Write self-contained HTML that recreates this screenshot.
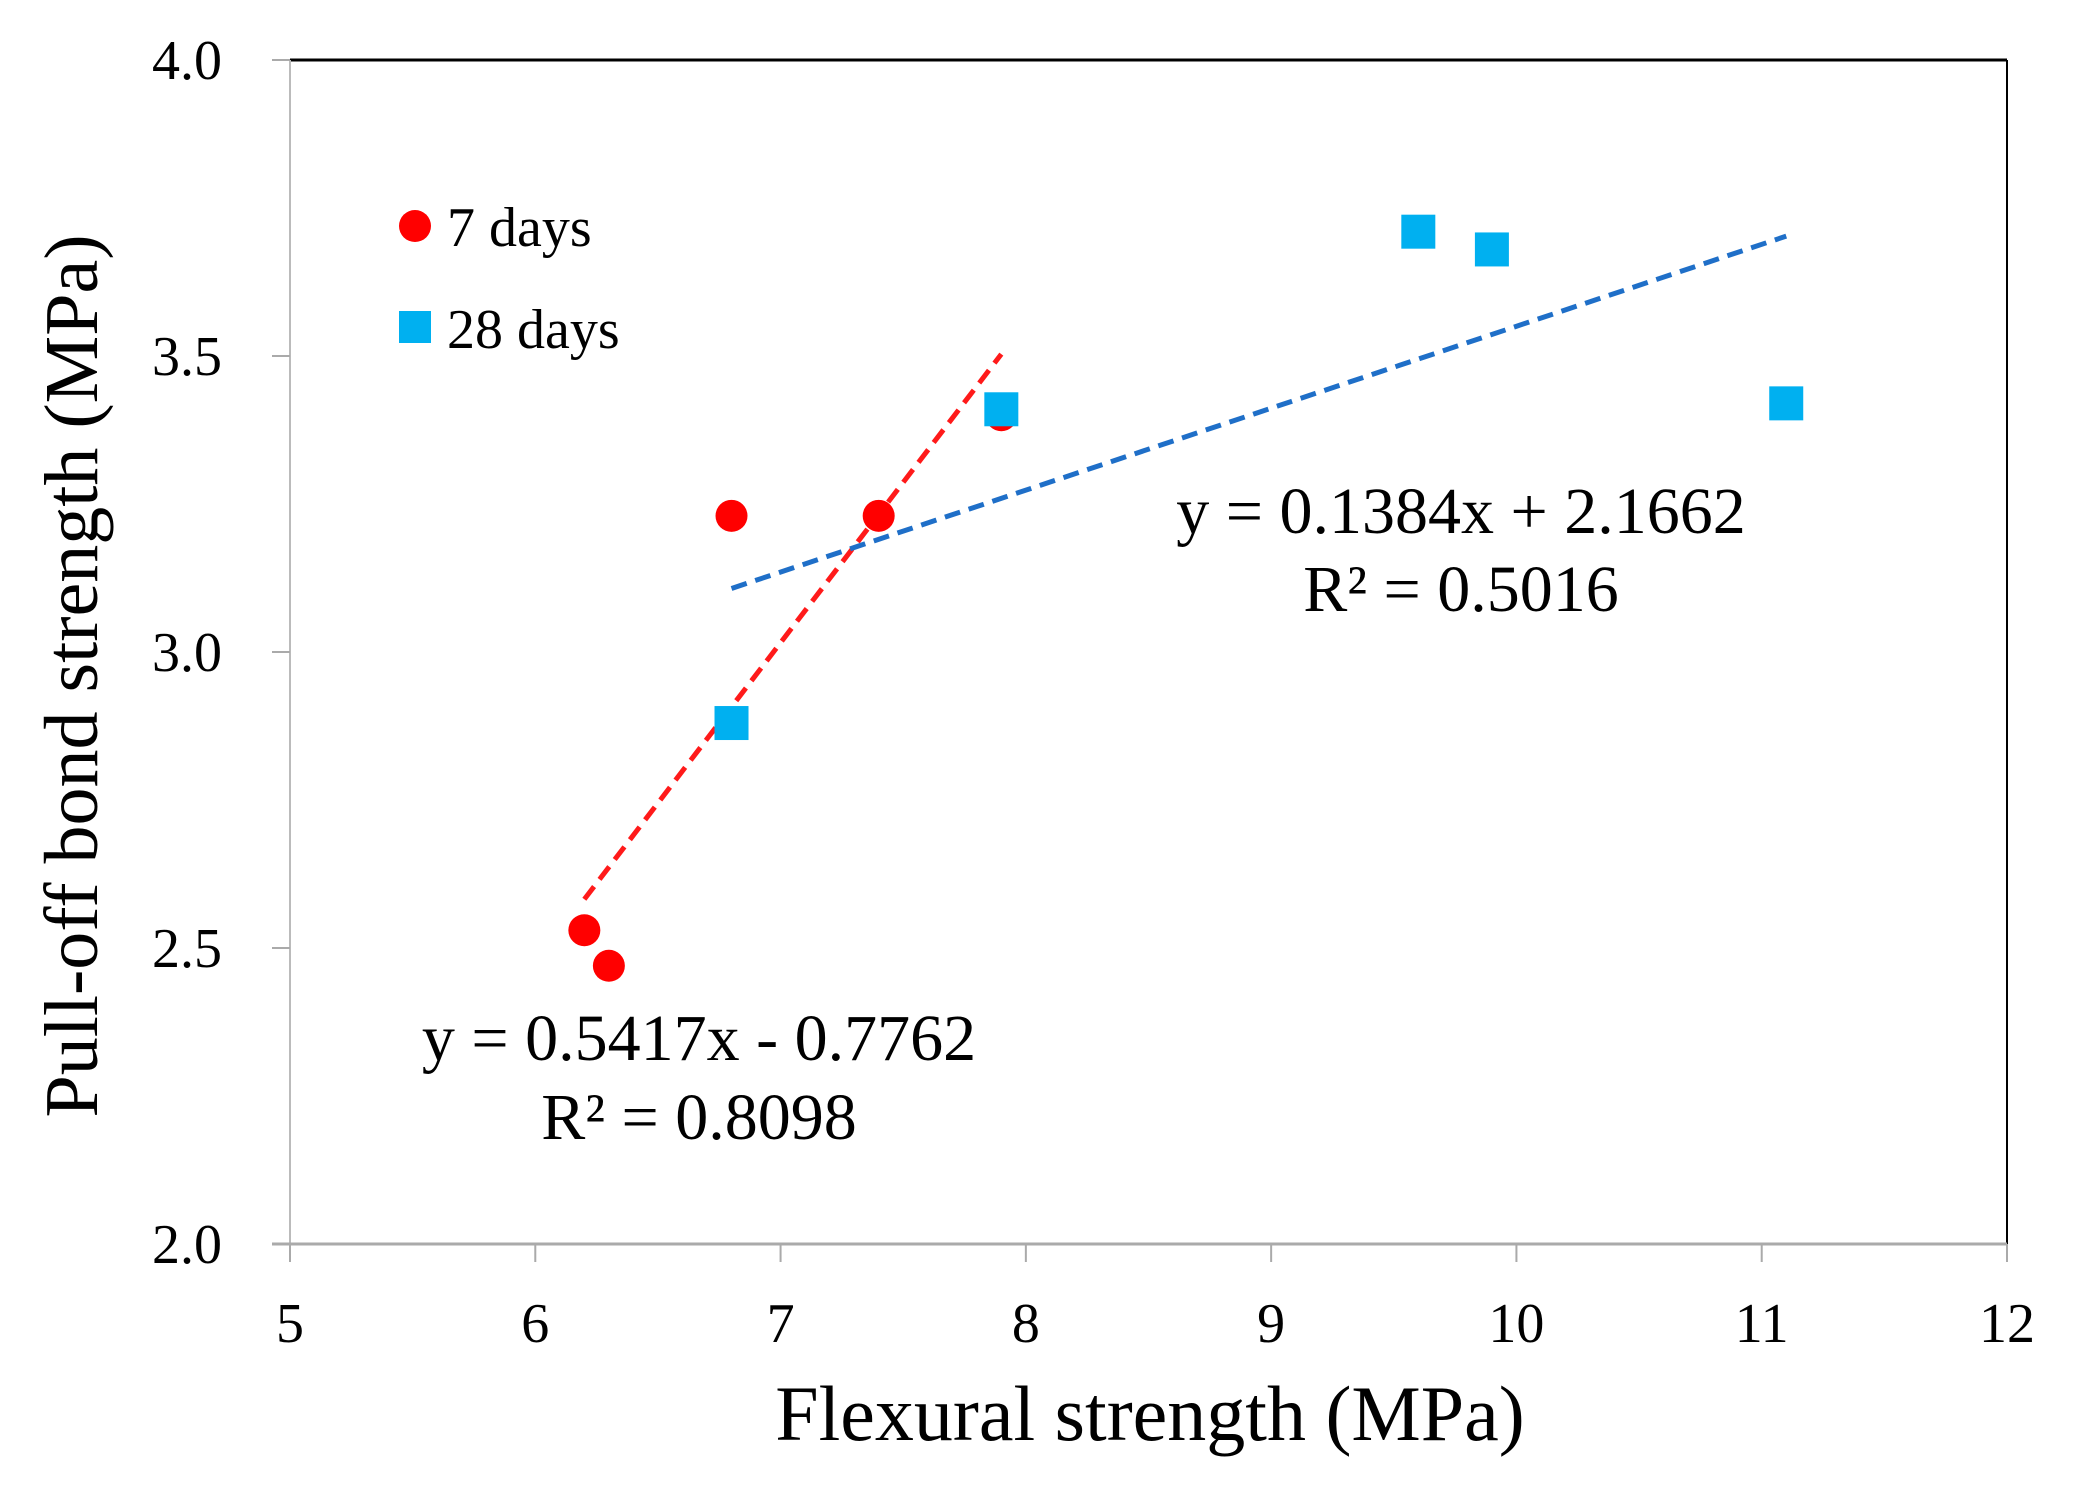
<!DOCTYPE html>
<html><head><meta charset="utf-8"><style>
html,body{margin:0;padding:0;background:#fff;}
svg{display:block;font-family:"Liberation Serif",serif;}
</style></head><body>
<svg id="chart" width="2077" height="1485" viewBox="0 0 2077 1485">
<g id="axes"></g><g id="marks"></g>
</svg>
<script>
const xTicks=[5,6,7,8,9,10,11,12];
const yTicks=[2.0,2.5,3.0,3.5,4.0];
const x7=[6.2,6.3,6.8,7.4,7.9];
const y7=[2.53,2.47,3.23,3.23,3.40];
const x28=[6.8,7.9,9.6,9.9,11.1];
const y28=[2.88,3.41,3.71,3.68,3.42];
const fit7=[0.5417,-0.7762];
const fit28=[0.1384,2.1662];

const L=290,R=2007,T=60,B=1244;
const sx=v=>L+(v-5)/(12-5)*(R-L);
const sy=v=>B-(v-2)/(4-2)*(B-T);
const NS="http://www.w3.org/2000/svg";
const axes=document.getElementById('axes'),marks=document.getElementById('marks');
function mk(tag,at,parent,txt){const e=document.createElementNS(NS,tag);for(const k in at)e.setAttribute(k,at[k]);if(txt!==undefined)e.textContent=txt;parent.appendChild(e);return e;}

let e;
e=mk('line',{x1:L,y1:T,x2:R,y2:T,stroke:'#000','stroke-width':3},axes);


e=mk('line',{x1:R,y1:T,x2:R,y2:B,stroke:'#000','stroke-width':2},axes);


e=mk('line',{x1:L,y1:T,x2:L,y2:B,stroke:'#bbb','stroke-width':2},axes);


e=mk('line',{x1:L-18,y1:B,x2:R,y2:B,stroke:'#aaa','stroke-width':3},axes);



yTicks.forEach(v=>{
  e=mk('line',{x1:L-18,y1:sy(v),x2:L,y2:sy(v),stroke:'#aaa','stroke-width':2},axes);
  
  
  e=mk('text',{x:222,y:sy(v)+19,'text-anchor':'end','font-size':56},axes,v.toFixed(1));
  
  
});
xTicks.forEach(v=>{
  e=mk('line',{x1:sx(v),y1:B,x2:sx(v),y2:B+18,stroke:'#aaa','stroke-width':2},axes);
  
  
  e=mk('text',{x:sx(v),y:1342,'text-anchor':'middle','font-size':56},axes,String(v));
  
  
});
e=mk('text',{x:1150,y:1440,'text-anchor':'middle','font-size':78},axes,'Flexural strength (MPa)');


e=mk('text',{x:0,y:0,'text-anchor':'middle','font-size':76,transform:'translate(97,676) rotate(-90)'},axes,'Pull-off bond strength (MPa)');



function trend(f,x0,x1,color,name){
  const l=mk('line',{x1:sx(x0),y1:sy(f[0]*x0+f[1]),x2:sx(x1),y2:sy(f[0]*x1+f[1]),stroke:color,'stroke-width':5,'stroke-dasharray':'16 9'},marks);
  
  
}
trend(fit7,Math.min(...x7),Math.max(...x7),'#ff1a1a','trendline-7-days');
trend(fit28,Math.min(...x28),Math.max(...x28),'#1f6fc8','trendline-28-days');

x7.forEach((v,i)=>{
  e=mk('circle',{cx:sx(v),cy:sy(y7[i]),r:16,fill:'#ff0000'},marks);
  
  
});
x28.forEach((v,i)=>{
  e=mk('rect',{x:sx(v)-17,y:sy(y28[i])-17,width:34,height:34,fill:'#00b0f0'},marks);
  
  
});

e=mk('circle',{cx:415,cy:226,r:16,fill:'#ff0000'},axes);


e=mk('text',{x:447,y:246,'font-size':56},axes,'7 days');


e=mk('rect',{x:399,y:311,width:32,height:32,fill:'#00b0f0'},axes);


e=mk('text',{x:447,y:348,'font-size':56},axes,'28 days');



e=mk('text',{x:1461,y:533,'text-anchor':'middle','font-size':66},axes,'y = 0.1384x + 2.1662');


e=mk('text',{x:1461,y:611,'text-anchor':'middle','font-size':66},axes,'R² = 0.5016');


e=mk('text',{x:699,y:1060,'text-anchor':'middle','font-size':66},axes,'y = 0.5417x - 0.7762');


e=mk('text',{x:699,y:1139,'text-anchor':'middle','font-size':66},axes,'R² = 0.8098');


</script>
</body></html>
